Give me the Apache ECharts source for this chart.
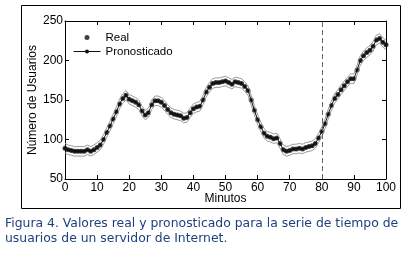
<!DOCTYPE html>
<html>
<head>
<meta charset="utf-8">
<script src="https://cdn.jsdelivr.net/npm/echarts@6/dist/echarts.min.js"></script>
<style>
  html, body { margin: 0; padding: 0; background: #fff; }
  #chart { width: 409px; height: 264px; }
</style>
</head>
<body>
<div id="chart"></div>
<script>
// valores, un punto por minuto (0..100)
var real = [89,87,86,85,85,85,85,87,85,87,
  90,93,100,109,117,126,135,145,152,156,
  151,149,147,144,136,131,134,144,149,149,
  147,143,138,134,132,131,130,127,128,134,
  139,141,142,150,160,166,171,172,172,173,
  174,172,170,173,172,171,167,162,150,137,
  125,116,108,104,103,101,102,95,87,85,
  86,88,88,89,88,90,91,92,95,102,
  110,120,132,143,152,157,163,168,173,177,
  177,188,200,206,210,213,218,226,228,223,
  220];
// el pronostico se superpone a los datos reales
var pronosticado = real;
var bandaSup = [95,93,92,91,91,91,91,93,91,93,
  96,99,106,115,123,132,141,151,158,162,
  157,155,153,150,142,137,140,150,155,155,
  153,149,144,140,138,137,136,133,134,140,
  145,147,148,156,166,172,177,178,178,179,
  180,178,176,179,178,177,173,168,156,143,
  131,122,114,110,109,107,108,101,93,91,
  92,94,94,95,94,96,97,98,101,108,
  116,126,138,149,158,163,169,174,179,183,
  183,194,206,212,216,219,224,232,234,229,
  226];
var bandaInf = [83,81,80,79,79,79,79,81,79,81,
  84,87,94,103,111,120,129,139,146,150,
  145,143,141,138,130,125,128,138,143,143,
  141,137,132,128,126,125,124,121,122,128,
  133,135,136,144,154,160,165,166,166,167,
  168,166,164,167,166,165,161,156,144,131,
  119,110,102,98,97,95,96,89,81,79,
  80,82,82,83,82,84,85,86,89,96,
  104,114,126,137,146,151,157,162,167,171,
  171,182,194,200,204,207,212,220,222,217,
  214];
var corte = 80; // linea discontinua
var caption1 = 'Figura 4. Valores real y pronosticado para la serie de tiempo de';
var caption2 = 'usuarios de un servidor de Internet.';

function pares(arr) {
  return arr.map(function (v, i) { return [i, v]; });
}

var axisFont = '"Liberation Sans", Arial, sans-serif';
var capFont = '12.4px "DejaVu Sans", Verdana, sans-serif';

var chart = echarts.init(document.getElementById('chart'), null, { renderer: 'canvas' });

var option = {
  animation: false,
  backgroundColor: '#fff',
  grid: { left: 65, right: 23, top: 21, bottom: 85 },
  legend: {
    left: 73,
    top: 31,
    padding: 0,
    orient: 'vertical',
    itemWidth: 27,
    itemHeight: 5,
    itemGap: 1,
    lineStyle: { width: 1 },
    textStyle: { fontFamily: axisFont, fontSize: 11.5, color: '#000', lineHeight: 13 },
    data: ['Real', 'Pronosticado']
  },
  xAxis: [{
    type: 'value', min: 0, max: 100, interval: 10,
    name: 'Minutos', nameLocation: 'middle', nameGap: 14, nameMoveOverlap: false,
    nameTextStyle: { fontFamily: axisFont, fontSize: 12, color: '#000' },
    axisLine: { onZero: false, lineStyle: { color: '#000', width: 1 } },
    axisTick: { inside: true, length: 4, lineStyle: { color: '#000' } },
    axisLabel: { fontFamily: axisFont, fontSize: 12, color: '#000', margin: 3 },
    splitLine: { show: false }
  }, {
    type: 'value', min: 0, max: 100, interval: 10, position: 'top',
    axisLine: { onZero: false, lineStyle: { color: '#000', width: 1 } },
    axisTick: { inside: true, length: 4, lineStyle: { color: '#000' } },
    axisLabel: { show: false },
    splitLine: { show: false }
  }],
  yAxis: [{
    type: 'value', min: 50, max: 250, interval: 50,
    name: 'Número de Usuarios', nameLocation: 'middle', nameGap: 26, nameRotate: 90,
    nameMoveOverlap: false,
    nameTextStyle: { fontFamily: axisFont, fontSize: 12, color: '#000' },
    axisLine: { show: true, onZero: false, lineStyle: { color: '#000', width: 1 } },
    axisTick: { show: true, inside: true, length: 4, lineStyle: { color: '#000' } },
    axisLabel: { fontFamily: axisFont, fontSize: 12, color: '#000', margin: 2 },
    splitLine: { show: false }
  }, {
    type: 'value', min: 50, max: 250, interval: 50, position: 'right',
    axisLine: { show: true, onZero: false, lineStyle: { color: '#000', width: 1 } },
    axisTick: { show: true, inside: true, length: 4, lineStyle: { color: '#000' } },
    axisLabel: { show: false },
    splitLine: { show: false }
  }],
  series: [{
    name: 'BandaSup', type: 'line', data: pares(bandaSup), showSymbol: false, silent: true,
    lineStyle: { color: '#999', width: 1 }
  }, {
    name: 'BandaInf', type: 'line', data: pares(bandaInf), showSymbol: false, silent: true,
    lineStyle: { color: '#999', width: 1 }
  }, {
    name: 'Pronosticado', type: 'line', data: pares(pronosticado),
    symbol: 'circle', symbolSize: 3, showSymbol: true,
    itemStyle: { color: '#111' }, lineStyle: { color: '#111', width: 1 },
    markLine: {
      silent: true, symbol: ['none', 'none'], label: { show: false },
      lineStyle: { color: '#666', width: 1, type: [5, 3] },
      data: [{ xAxis: corte }]
    }
  }, {
    name: 'Real', type: 'scatter', data: pares(real),
    symbol: 'circle', symbolSize: 5,
    itemStyle: { color: '#111' }
  }],
  graphic: [{
    type: 'rect', silent: true,
    shape: { x: 21.5, y: 5.5, width: 379, height: 203 },
    style: { fill: null, stroke: '#000', lineWidth: 1 }
  }, {
    type: 'text', left: 5, top: 218,
    style: { text: caption1, fill: '#1f3f7f', font: capFont }
  }, {
    type: 'text', left: 5, top: 233,
    style: { text: caption2, fill: '#1f3f7f', font: capFont }
  }]
};

chart.setOption(option);
</script>
</body>
</html>
